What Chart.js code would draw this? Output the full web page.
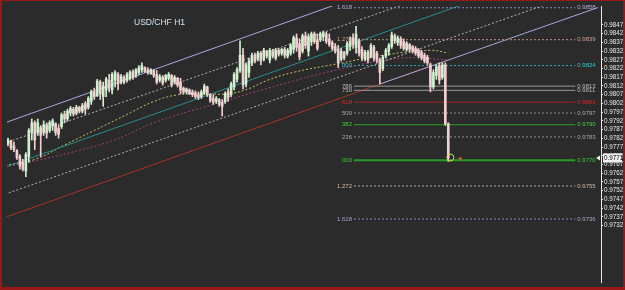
<!DOCTYPE html>
<html><head><meta charset="utf-8">
<script src="https://cdn.jsdelivr.net/npm/chart.js@4.4.1/dist/chart.umd.min.js"></script>
<style>
html,body{margin:0;padding:0;background:#2b2b2b;}
#wrap{width:621px;height:286px;border-style:solid;border-color:#961818;border-width:1px 2px 3px 2px;background:#2b2b2b;}
canvas{display:block;}
</style></head><body>
<div id="wrap"><canvas id="c" width="621" height="286"></canvas></div>
<script>
// ---------------- DATA ----------------
const chartTitle = "USD/CHF H1";

const openP = [0.97815,0.97788,0.97804,0.97777,0.97749,0.97716,0.97683,0.97633,0.97716,0.97854,
0.97909,0.97854,0.97882,0.97854,0.97898,0.97865,0.97893,0.97904,0.97876,0.97887,
0.97959,0.97931,0.97965,0.97987,0.97965,0.97998,0.97976,0.98020,0.97998,0.98031,
0.98086,0.98064,0.98142,0.98059,0.98097,0.98153,0.98097,0.98153,0.98186,0.98142,
0.98169,0.98153,0.98164,0.98202,0.98180,0.98197,0.98213,0.98225,0.98213,0.98191,
0.98208,0.98186,0.98153,0.98169,0.98153,0.98164,0.98180,0.98142,0.98164,0.98142,
0.98108,0.98086,0.98097,0.98086,0.98081,0.98070,0.98059,0.98081,0.98114,0.98070,
0.98048,0.98031,0.98042,0.98026,0.98031,0.98086,0.98070,0.98114,0.98158,0.98208,
0.98296,0.98131,0.98197,0.98252,0.98296,0.98274,0.98308,0.98274,0.98319,0.98269,
0.98319,0.98280,0.98324,0.98308,0.98330,0.98291,0.98308,0.98330,0.98396,0.98363,
0.98319,0.98407,0.98319,0.98374,0.98418,0.98385,0.98385,0.98402,0.98418,0.98390,
0.98368,0.98346,0.98330,0.98274,0.98313,0.98308,0.98346,0.98396,0.98341,0.98379,
0.98330,0.98274,0.98313,0.98291,0.98341,0.98308,0.98269,0.98219,0.98291,0.98319,
0.98346,0.98407,0.98368,0.98390,0.98374,0.98330,0.98357,0.98346,0.98335,0.98324,
0.98313,0.98296,0.98285,0.98241,0.98114,0.98180,0.98236,0.98169,0.98241,0.97904];

const highP = [0.97826,0.97821,0.97810,0.97799,0.97755,0.97727,0.97699,0.97738,0.97876,0.97931,
0.97920,0.97931,0.97893,0.97920,0.97909,0.97920,0.97931,0.97909,0.97893,0.97965,
0.97976,0.97987,0.98003,0.97998,0.98009,0.98003,0.98020,0.98031,0.98059,0.98097,
0.98108,0.98158,0.98153,0.98142,0.98169,0.98186,0.98197,0.98208,0.98197,0.98186,
0.98180,0.98197,0.98208,0.98213,0.98219,0.98236,0.98252,0.98230,0.98225,0.98219,
0.98213,0.98208,0.98186,0.98180,0.98186,0.98197,0.98186,0.98180,0.98169,0.98164,
0.98114,0.98108,0.98103,0.98097,0.98092,0.98086,0.98097,0.98131,0.98119,0.98075,
0.98070,0.98059,0.98048,0.98042,0.98086,0.98103,0.98142,0.98197,0.98225,0.98379,
0.98335,0.98252,0.98280,0.98308,0.98308,0.98319,0.98319,0.98335,0.98324,0.98335,
0.98330,0.98335,0.98335,0.98335,0.98341,0.98335,0.98363,0.98407,0.98418,0.98390,
0.98418,0.98429,0.98418,0.98429,0.98429,0.98418,0.98429,0.98435,0.98429,0.98418,
0.98379,0.98363,0.98352,0.98335,0.98319,0.98374,0.98402,0.98418,0.98462,0.98390,
0.98346,0.98324,0.98324,0.98363,0.98352,0.98319,0.98280,0.98296,0.98335,0.98363,
0.98429,0.98418,0.98407,0.98402,0.98390,0.98374,0.98363,0.98352,0.98346,0.98335,
0.98324,0.98308,0.98296,0.98252,0.98213,0.98241,0.98252,0.98252,0.98252,0.97909];

const lowP = [0.97771,0.97777,0.97755,0.97744,0.97699,0.97644,0.97633,0.97600,0.97683,0.97810,
0.97755,0.97837,0.97716,0.97837,0.97821,0.97854,0.97865,0.97837,0.97821,0.97876,
0.97909,0.97920,0.97948,0.97948,0.97954,0.97965,0.97965,0.97959,0.97987,0.98014,
0.98042,0.98059,0.98042,0.98003,0.98059,0.98086,0.98075,0.98114,0.98097,0.98131,
0.98131,0.98142,0.98153,0.98158,0.98169,0.98186,0.98197,0.98197,0.98186,0.98186,
0.98169,0.98131,0.98142,0.98125,0.98142,0.98153,0.98114,0.98131,0.98114,0.98075,
0.98075,0.98075,0.98070,0.98059,0.98048,0.98042,0.98048,0.98070,0.98059,0.98026,
0.98014,0.98020,0.98003,0.97948,0.98020,0.98031,0.98059,0.98097,0.98142,0.98197,
0.98103,0.98114,0.98169,0.98236,0.98252,0.98263,0.98241,0.98263,0.98280,0.98252,
0.98280,0.98269,0.98291,0.98296,0.98280,0.98280,0.98296,0.98308,0.98319,0.98269,
0.98308,0.98335,0.98291,0.98352,0.98363,0.98324,0.98374,0.98379,0.98363,0.98346,
0.98324,0.98308,0.98225,0.98263,0.98269,0.98296,0.98324,0.98335,0.98308,0.98291,
0.98263,0.98263,0.98252,0.98280,0.98263,0.98252,0.98131,0.98208,0.98280,0.98296,
0.98335,0.98363,0.98352,0.98335,0.98324,0.98319,0.98319,0.98308,0.98296,0.98280,
0.98269,0.98252,0.98241,0.98086,0.98103,0.98158,0.98131,0.98158,0.97893,0.97688];

const closeP = [0.97782,0.97810,0.97766,0.97755,0.97710,0.97661,0.97644,0.97727,0.97865,0.97909,
0.97810,0.97909,0.97837,0.97898,0.97849,0.97909,0.97920,0.97854,0.97843,0.97954,
0.97931,0.97976,0.97992,0.97959,0.97998,0.97976,0.98009,0.97987,0.98048,0.98086,
0.98059,0.98147,0.98075,0.98119,0.98158,0.98108,0.98186,0.98197,0.98131,0.98175,
0.98142,0.98186,0.98197,0.98169,0.98213,0.98225,0.98236,0.98202,0.98197,0.98213,
0.98180,0.98142,0.98175,0.98136,0.98180,0.98186,0.98125,0.98169,0.98125,0.98097,
0.98086,0.98103,0.98075,0.98070,0.98059,0.98053,0.98086,0.98119,0.98070,0.98037,
0.98026,0.98048,0.98014,0.98003,0.98075,0.98053,0.98131,0.98186,0.98213,0.98296,
0.98125,0.98241,0.98263,0.98296,0.98263,0.98308,0.98263,0.98324,0.98291,0.98324,
0.98291,0.98324,0.98302,0.98330,0.98296,0.98324,0.98352,0.98396,0.98341,0.98286,
0.98407,0.98352,0.98402,0.98418,0.98374,0.98335,0.98418,0.98424,0.98374,0.98357,
0.98335,0.98319,0.98252,0.98319,0.98280,0.98363,0.98390,0.98357,0.98418,0.98308,
0.98280,0.98313,0.98269,0.98352,0.98280,0.98269,0.98197,0.98286,0.98324,0.98352,
0.98413,0.98379,0.98396,0.98352,0.98335,0.98363,0.98330,0.98319,0.98308,0.98291,
0.98280,0.98263,0.98252,0.98114,0.98197,0.98230,0.98153,0.98241,0.97904,0.97710];

const yTickValues = [0.9847,0.9842,0.9837,0.9832,0.9827,0.9822,0.9817,0.9812,0.9807,0.9802,
0.9797,0.9792,0.9787,0.9782,0.9777,0.9772,0.9767,0.9762,0.9757,0.9752,0.9747,0.9742,0.9737,0.9732];

const currentPrice = 0.9771;
const currentLabel = "0.9771";

// trend / channel lines: [bar index, price]
const lavenderUpper = [[0,0.97909],[115,0.98609]];
const lavenderLower = [[126,0.98131],[199.3,0.98569]];
const whiteDotUpper = [[0,0.97793],[140,0.98622]];
const tealLine      = [[0,0.97655],[160,0.98624]];
const whiteDotLower = [[0,0.97500],[190,0.98635]];
const redLine       = [[0,0.97367],[148,0.98264]];

// moving averages: [bar index, price]
const yellowMA = [[0,0.97666],[10,0.97699],[20,0.97782],[30,0.97865],[40,0.97948],[50,0.98031],
[58.3,0.98070],[66.7,0.98075],[75,0.98075],[81.7,0.98103],[88.3,0.98153],[96.7,0.98197],
[113.3,0.98252],[126.7,0.98296],[143.3,0.98324],[149,0.98308]];
const magentaMA = [[0,0.97655],[16.7,0.97716],[36.7,0.97810],[50,0.97909],[70,0.98014],
[93.3,0.98131],[113.3,0.98219],[133.3,0.98280],[149,0.98269]];

// Fibonacci levels
const fibStart = 117.3, fibEnd = 191.7;
const fibPrices = [0.98568,0.98385,0.98237,0.98119,0.98095,0.98027,0.97965,0.97898,0.97828,0.97694,0.97547,0.97358];
const fibLeftLabels = ["1.618","1.272","000","786","750","618","500","382","236","000","1.272","1.618"];
const fibRightLabels = ["0.9858","0.9839","0.9824","0.9813","0.9811","0.9803","0.9797","0.9790","0.9783","0.9770","0.9755","0.9736"];

const markerCircle = [[149.7,0.97710]];
const markerDot = [[153,0.97704]];

// ---------------- STYLE ----------------
const BULL = '#d0f0d0', BEAR = '#f2cfcf';
const fibLineColors = ['#8a8ac8','#b89080','#2aa8a8','#9a9a9a','#9a9a9a','#a02424','#8c8c8c','#2aa02a','#8c8c8c','#2a9a2a','#b8a89a','#8a8ac8'];
const fibDash = [[2,2],[2,2],[2,2],[],[],[],[2,2],[],[2,2],[],[2,2],[2,2]];
const fibWidth = [1,1,1,1,1,1,1,1,1,2,1,1];
const fibLabelColors = ['#aeaed8','#d0a294','#3cc8c8','#bdbdbd','#bdbdbd','#d82828','#a8a8a8','#3cd03c','#a8a8a8','#3cd03c','#d0bcb0','#a4a4d4'];

Chart.defaults.font.family = '"Liberation Sans", Arial, sans-serif';

const candleColors = openP.map((o,i)=> closeP[i] >= o ? BULL : BEAR);
const toXY = arr => arr.map(p=>({x:p[0], y:p[1]}));
function lineDs(points, color, dash, width, tension){
  return {type:'line', data:toXY(points), borderColor:color, borderWidth:width||1,
    borderDash:dash||[], pointRadius:0, fill:false, tension:tension||0};
}

const datasets = [];
datasets.push({type:'line', data:toXY(markerCircle), showLine:false, pointRadius:3.5,
  pointBorderColor:'#d8e040', pointBackgroundColor:'rgba(0,0,0,0)', pointBorderWidth:1});
datasets.push({type:'line', data:toXY(markerDot), showLine:false, pointRadius:1.6,
  pointBorderColor:'#c86020', pointBackgroundColor:'#c86020', pointBorderWidth:0});
datasets.push({type:'bar', data:openP.map((o,i)=>({x:i, y:[o, closeP[i]]})),
  backgroundColor:candleColors, barThickness:2, grouped:false, minBarLength:1});
datasets.push({type:'bar', data:highP.map((h,i)=>({x:i, y:[lowP[i], h]})),
  backgroundColor:candleColors, barThickness:1, grouped:false, minBarLength:1});
fibPrices.forEach((p,k)=>{
  datasets.push(lineDs([[fibStart,p],[fibEnd,p]], fibLineColors[k], fibDash[k], fibWidth[k]));
});
datasets.push(lineDs(lavenderUpper,'#a8a8e0'));
datasets.push(lineDs(lavenderLower,'#a8a8e0'));
datasets.push(lineDs(whiteDotUpper,'#b4b4b4',[2,2]));
datasets.push(lineDs(whiteDotLower,'#b4b4b4',[2,2]));
datasets.push(lineDs(tealLine,'#2a8c8c'));
datasets.push(lineDs(redLine,'#a83428'));
datasets.push(lineDs(yellowMA,'#c8c060',[2,2],1,0.4));
datasets.push(lineDs(magentaMA,'#a0407c',[2,2],1,0.4));

const overlay = {
  id:'overlay',
  afterDatasetsDraw(chart){
    const {ctx, scales:{x,y}} = chart;
    ctx.save();
    ctx.textBaseline = 'middle';
    ctx.font = '6px "Liberation Sans"';
    fibPrices.forEach((p,k)=>{
      const py = y.getPixelForValue(p);
      ctx.fillStyle = fibLabelColors[k];
      ctx.textAlign = 'right';
      ctx.fillText(fibLeftLabels[k], x.getPixelForValue(fibStart)-2, py);
      ctx.textAlign = 'left';
      ctx.fillText(fibRightLabels[k], x.getPixelForValue(fibEnd)+2, py);
    });
    ctx.font = '8.5px "Liberation Sans"';
    ctx.fillStyle = '#cce6f5';
    ctx.textAlign = 'left';
    ctx.fillText(chartTitle, 132, 22);
    ctx.restore();
  },
  afterDraw(chart){
    const {ctx, chartArea, scales:{y}} = chart;
    const py = Math.round(y.getPixelForValue(currentPrice));
    ctx.save();
    ctx.fillStyle = '#f0f0f0';
    ctx.beginPath();
    ctx.moveTo(chartArea.right-5, py);
    ctx.lineTo(chartArea.right-1, py-2.5);
    ctx.lineTo(chartArea.right-1, py+2.5);
    ctx.closePath(); ctx.fill();
    ctx.fillRect(chartArea.right+2, py-4.5, 19, 9);
    ctx.fillStyle = '#000';
    ctx.font = '6.3px "Liberation Sans"';
    ctx.textAlign = 'left'; ctx.textBaseline = 'middle';
    ctx.fillText(currentLabel, chartArea.right+3, py+0.5);
    ctx.restore();
  }
};

new Chart(document.getElementById('c'), {
  type:'bar',
  data:{datasets},
  options:{
    responsive:false, animation:false, events:[],
    layout:{padding:0},
    plugins:{legend:{display:false}, tooltip:{enabled:false}},
    scales:{
      x:{type:'linear', min:2/3, max:2/3+599/3, display:false, offset:false},
      y:{type:'linear', position:'right', min:0.96997, max:0.98578,
        afterFit:s=>{s.width=22;},
        afterBuildTicks:s=>{s.ticks = yTickValues.map(v=>({value:v}));},
        grid:{drawOnChartArea:false, drawTicks:true, tickLength:2, color:'#e0e0e0'},
        border:{display:true, color:'#e8e8e8', width:1},
        ticks:{color:'#e8e8e8', font:{size:6.3}, padding:1, autoSkip:false,
          callback:v=>Number(v).toFixed(4)}
      }
    }
  },
  plugins:[overlay]
});
</script>
</body></html>
